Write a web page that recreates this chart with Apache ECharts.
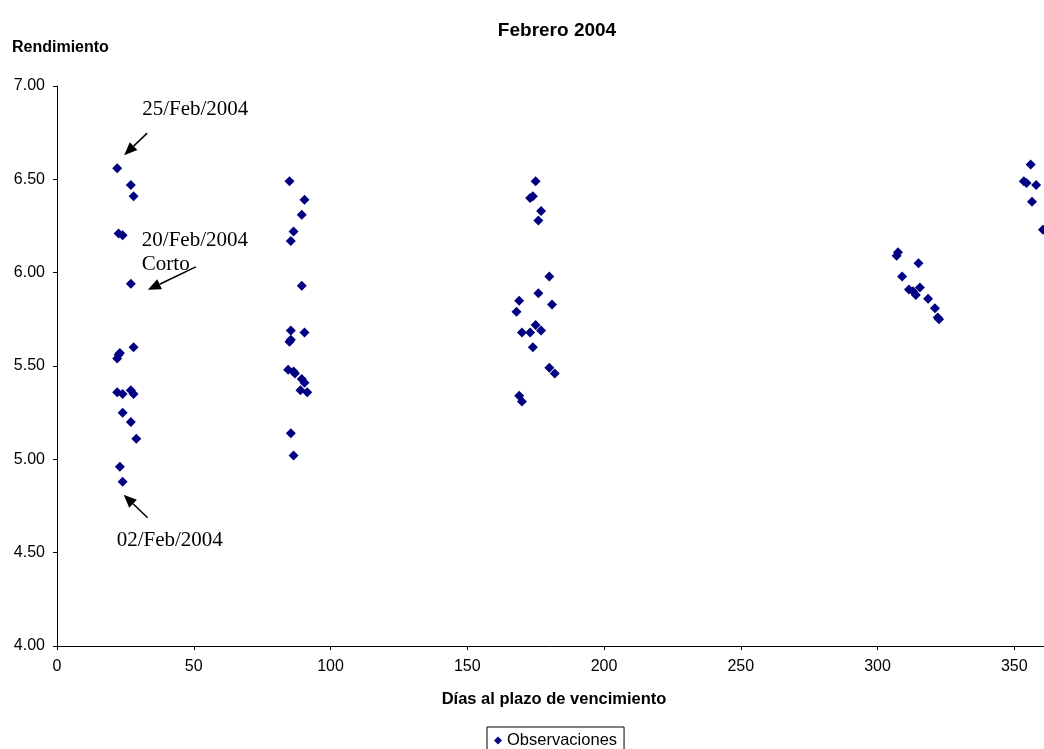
<!DOCTYPE html>
<html>
<head>
<meta charset="utf-8">
<script src="https://cdn.jsdelivr.net/npm/echarts@6/dist/echarts.min.js"></script>
<style>
  html, body { margin: 0; padding: 0; background: #fff; }
  #chart { width: 1044px; height: 749px; }
</style>
</head>
<body>
<div id="chart"></div>
<script>
// Días al plazo de vencimiento de cada observación
const diasPlazo = [
  22, 27, 28, 22.5, 24, 27, 28, 23, 22.5, 22, 22, 24, 27, 28, 24, 27, 29, 23, 24,
  85, 90.5, 89.5, 86.5, 85.5, 89.5, 85.5, 90.5, 85.5, 85, 84.5, 86.5, 87, 89.5, 90.5, 89, 91.5, 85.5, 86.5,
  175, 173, 174, 177, 176, 180, 176, 169, 181, 168, 175, 177, 170, 173, 174, 180, 182, 169, 170,
  307.5, 307, 315, 309, 311.5, 313, 314, 315.5, 318.5, 321, 322, 322.5,
  356, 353.5, 354.5, 358, 356.5, 360.5
];
// Rendimiento observado (%)
const rendimiento = [
  6.56, 6.47, 6.41, 6.21, 6.20, 5.94, 5.60, 5.57, 5.56, 5.54, 5.36, 5.35, 5.37, 5.35, 5.25, 5.20, 5.11, 4.96, 4.88,
  6.49, 6.39, 6.31, 6.22, 6.17, 5.93, 5.69, 5.68, 5.64, 5.63, 5.48, 5.47, 5.46, 5.43, 5.41, 5.37, 5.36, 5.14, 5.02,
  6.49, 6.40, 6.41, 6.33, 6.28, 5.98, 5.89, 5.85, 5.83, 5.79, 5.72, 5.69, 5.68, 5.68, 5.60, 5.49, 5.46, 5.34, 5.31,
  6.11, 6.09, 6.05, 5.98, 5.91, 5.90, 5.88, 5.92, 5.86, 5.81, 5.76, 5.75,
  6.58, 6.49, 6.48, 6.47, 6.38, 6.23
];
// Tick range of the axes
const yTicks = [4, 4.5, 5, 5.5, 6, 6.5, 7];
const xTicks = [0, 50, 100, 150, 200, 250, 300, 350, 400];

// Annotated observations: [días, rendimiento]
const notas = [
  { texto: ['25/Feb/2004'], punto: [22, 6.56] },
  { texto: ['20/Feb/2004', 'Corto'], punto: [27, 5.94] },
  { texto: ['02/Feb/2004'], punto: [24, 4.88] }
];

const puntos = diasPlazo.map((d, i) => [d, rendimiento[i]]);

const sans = 'Arial, "Liberation Sans", sans-serif';
const serif = '"Times New Roman", "Liberation Serif", serif';

const chart = echarts.init(document.getElementById('chart'), null, { renderer: 'canvas' });

chart.setOption({
  animation: false,
  backgroundColor: '#ffffff',
  title: [
    {
      text: 'Febrero 2004',
      left: 552, top: 16, textAlign: 'center',
      textStyle: { fontFamily: sans, fontSize: 19, fontWeight: 'bold', color: '#000' }
    },
    {
      text: 'Rendimiento',
      left: 7, top: 35,
      textStyle: { fontFamily: sans, fontSize: 16, fontWeight: 'bold', color: '#000' }
    }
  ],
  // plot area runs past the right edge of the page
  grid: {
    left: 57, top: 86, width: 1094, bottom: 103,
    containLabel: false, outerBoundsMode: 'none'
  },
  xAxis: {
    type: 'value',
    min: xTicks[0], max: xTicks[xTicks.length - 1], interval: 50,
    axisLine: { lineStyle: { color: '#000', width: 1 } },
    axisTick: { inside: false, length: 4, lineStyle: { color: '#000' } },
    axisLabel: { fontFamily: sans, fontSize: 16, color: '#000', margin: 13 },
    splitLine: { show: false }
  },
  yAxis: {
    type: 'value',
    min: yTicks[0], max: yTicks[yTicks.length - 1], interval: 0.5,
    axisLine: { show: true, lineStyle: { color: '#000', width: 1 } },
    axisTick: { show: true, inside: false, length: 4, lineStyle: { color: '#000' } },
    axisLabel: {
      fontFamily: sans, fontSize: 16, color: '#000', margin: 12,
      formatter: v => v.toFixed(2)
    },
    splitLine: { show: false }
  },
  legend: {
    data: ['Observaciones'],
    left: 487, top: 727,
    orient: 'horizontal',
    borderColor: '#000', borderWidth: 1,
    padding: [5, 7, 6, 7],
    itemWidth: 8, itemHeight: 8,
    textStyle: { fontFamily: sans, fontSize: 16.5, color: '#000' },
    icon: 'diamond'
  },
  series: [{
    name: 'Observaciones',
    type: 'scatter',
    symbol: 'diamond',
    symbolSize: 10,
    itemStyle: { color: '#000080', opacity: 1 },
    data: puntos
  }]
});

// Arrow from (x1,y1) to tip (x2,y2)
function flecha(x1, y1, x2, y2) {
  const ang = Math.atan2(y2 - y1, x2 - x1);
  const L = 13, W = 5.5;
  const bx = x2 - L * Math.cos(ang), by = y2 - L * Math.sin(ang);
  const px = -Math.sin(ang) * W, py = Math.cos(ang) * W;
  return [
    { type: 'line', shape: { x1: x1, y1: y1, x2: bx, y2: by }, style: { stroke: '#000', lineWidth: 1.5 }, z: 10 },
    { type: 'polygon', shape: { points: [[x2, y2], [bx + px, by + py], [bx - px, by - py]] }, style: { fill: '#000' }, z: 10 }
  ];
}

// Labels and arrows placed relative to the annotated points
const p0 = chart.convertToPixel({ gridIndex: 0 }, notas[0].punto);
const p1 = chart.convertToPixel({ gridIndex: 0 }, notas[1].punto);
const p2 = chart.convertToPixel({ gridIndex: 0 }, notas[2].punto);
const baseEje = chart.convertToPixel({ gridIndex: 0 }, [0, yTicks[0]]);

const elementos = [];
const estiloNota = { fontFamily: serif, fontSize: 21, fill: '#000' };

// x-axis title, centred under the visible plot area
elementos.push({
  type: 'text', x: 554, y: baseEje[1] + 53,
  style: {
    text: 'Días al plazo de vencimiento', fontFamily: sans, fontSize: 16.5,
    fontWeight: 'bold', fill: '#000', textAlign: 'center', textVerticalAlign: 'middle'
  }
});

elementos.push({ type: 'text', x: p0[0] + 25, y: p0[1] - 59, style: Object.assign({ text: notas[0].texto[0], textVerticalAlign: 'middle' }, estiloNota), z: 9 });
elementos.push(...flecha(p0[0] + 30, p0[1] - 35, p0[0] + 7, p0[1] - 13));

elementos.push({ type: 'text', x: p1[0] + 11, y: p1[1] - 43, style: Object.assign({ text: notas[1].texto[0], textVerticalAlign: 'middle' }, estiloNota), z: 9 });
elementos.push({ type: 'text', x: p1[0] + 11, y: p1[1] - 19, style: Object.assign({ text: notas[1].texto[1], textVerticalAlign: 'middle' }, estiloNota), z: 9 });
// the note's text box ends partway through the "Corto" line
elementos.push({ type: 'rect', shape: { x: p1[0] + 9, y: p1[1] - 13, width: 62, height: 14 }, style: { fill: '#fff' }, z: 9.5 });
elementos.push(...flecha(p1[0] + 65, p1[1] - 17, p1[0] + 17, p1[1] + 6));

elementos.push({ type: 'text', x: p2[0] - 6, y: p2[1] + 59, style: Object.assign({ text: notas[2].texto[0], textVerticalAlign: 'middle' }, estiloNota), z: 9 });
elementos.push(...flecha(p2[0] + 25, p2[1] + 36, p2[0] + 1, p2[1] + 13));

chart.setOption({ graphic: { elements: elementos } });
</script>
</body>
</html>
